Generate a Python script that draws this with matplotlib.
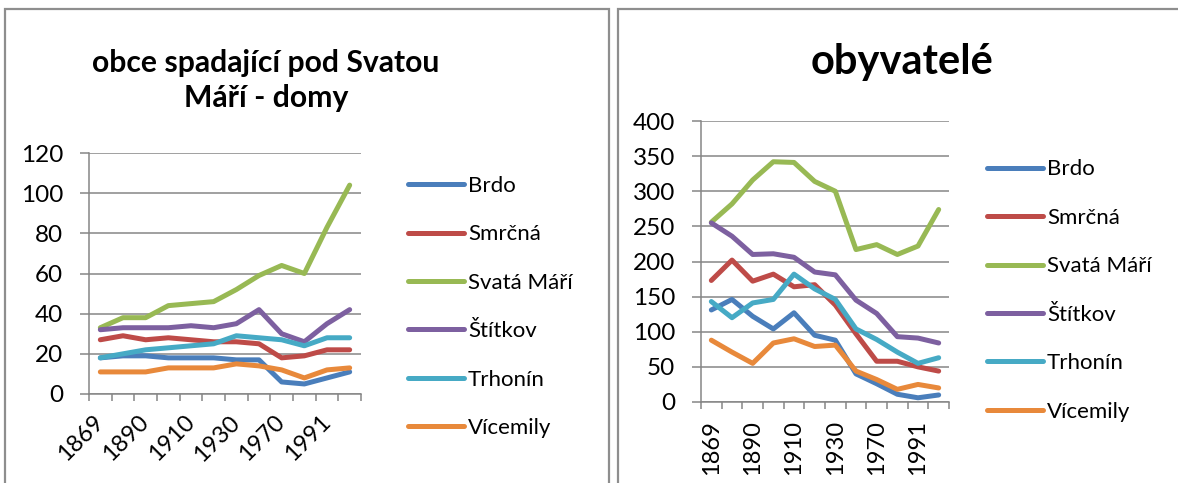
import numpy as np
import matplotlib
matplotlib.use("Agg")
import matplotlib.pyplot as plt
from matplotlib.patches import Rectangle

plt.rcParams['font.family'] = ['Lato', 'DejaVu Sans']

# categories (only every second year is labelled on the axis)
years = ["1869", "1880", "1890", "1900", "1910", "1921", "1930", "1950",
         "1970", "1980", "1991", "2001"]
names = ["Brdo", "Smrčná", "Svatá Máří", "Štítkov", "Trhonín", "Vícemily"]
colors = ["#4a7ebb", "#be4b48", "#98b954", "#7d60a0", "#46aac5", "#e8893b"]

# domy (houses)
domy_brdo     = [18, 19, 19, 18, 18, 18, 17, 17, 6, 5, 8, 11]
domy_smrcna   = [27, 29, 27, 28, 27, 26, 26, 25, 18, 19, 22, 22]
domy_svata    = [33, 38, 38, 44, 45, 46, 52, 59, 64, 60, 83, 104]
domy_stitkov  = [32, 33, 33, 33, 34, 33, 35, 42, 30, 26, 35, 42]
domy_trhonin  = [18, 20, 22, 23, 24, 25, 29, 28, 27, 24, 28, 28]
domy_vicemily = [11, 11, 11, 13, 13, 13, 15, 14, 12, 8, 12, 13]

# obyvatelé (inhabitants)
oby_brdo     = [131, 146, 122, 104, 127, 95, 88, 40, 26, 11, 6, 10]
oby_smrcna   = [173, 202, 172, 182, 164, 167, 138, 97, 58, 58, 50, 44]
oby_svata    = [256, 282, 316, 342, 341, 314, 300, 217, 224, 210, 222, 274]
oby_stitkov  = [255, 236, 210, 211, 206, 185, 181, 145, 126, 93, 91, 84]
oby_trhonin  = [143, 120, 141, 146, 182, 161, 146, 104, 89, 71, 55, 63]
oby_vicemily = [88, 71, 55, 84, 90, 79, 81, 44, 32, 18, 25, 20]

domy = [domy_brdo, domy_smrcna, domy_svata, domy_stitkov, domy_trhonin, domy_vicemily]
oby = [oby_brdo, oby_smrcna, oby_svata, oby_stitkov, oby_trhonin, oby_vicemily]

W, H = 1178, 483
fig = plt.figure(figsize=(W / 100, H / 100), dpi=100)

# chart frames
frame_col = "#8e8e8e"
fig.add_artist(Rectangle((5 / W, -0.05), 604 / W, 1.05 - 9 / H, transform=fig.transFigure,
                         fill=False, edgecolor=frame_col, lw=1.6))
fig.add_artist(Rectangle((618 / W, -0.05), 0.6, 1.05 - 9 / H, transform=fig.transFigure,
                         fill=False, edgecolor=frame_col, lw=1.6))

grid_col = "#868686"


def draw(ax, series, ymax, ystep, rot):
    x = np.arange(len(years))
    for vals, name, c in zip(series, names, colors):
        ax.plot(x, vals, color=c, lw=3.6, label=name,
                solid_joinstyle="round", solid_capstyle="round")
    ax.set_xlim(-0.5, len(years) - 0.5)
    ax.set_ylim(0, ymax)
    ax.set_yticks(np.arange(0, ymax + 1, ystep))
    ax.yaxis.grid(True, color=grid_col, lw=1.1)
    ax.set_axisbelow(True)
    for s in ["top", "right"]:
        ax.spines[s].set_visible(False)
    for s in ["left", "bottom"]:
        ax.spines[s].set_color(grid_col)
        ax.spines[s].set_linewidth(1.1)
    ax.tick_params(axis="y", length=6.5, width=1.1, color=grid_col, pad=12, labelsize=17.5)
    # tick marks between categories, labels on every second category
    ax.set_xticks(np.arange(-0.5, len(years)), labels=[])
    ax.tick_params(axis="x", which="major", length=5, width=1.1, color=grid_col)
    ax.set_xticks(x[::2], labels=years[::2], minor=True)
    if rot == 45:
        ax.tick_params(axis="x", which="minor", length=0, labelsize=17, pad=18)
        plt.setp(ax.get_xticklabels(minor=True), rotation=45, ha="right", va="center",
                 rotation_mode="anchor")
    else:
        ax.tick_params(axis="x", which="minor", length=0, labelsize=17, pad=13)
        plt.setp(ax.get_xticklabels(minor=True), rotation=90, ha="right", va="center",
                 rotation_mode="anchor")


ax1 = fig.add_axes([89 / W, 1 - 394 / H, 272 / W, 241 / H])
draw(ax1, domy, 120, 20, 45)
ax1.legend(loc="center left", bbox_to_anchor=(408 / W, 1 - 307 / H),
           bbox_transform=fig.transFigure, frameon=False, fontsize=16,
           handlelength=2.5, handletextpad=0.2, labelspacing=1.28,
           borderpad=0, borderaxespad=0)
fig.text(266 / W, 1 - 72 / H, "obce spadající pod Svatou", ha="center", va="baseline",
         fontsize=21.7, fontweight="bold")
fig.text(266 / W, 1 - 107 / H, "Máří - domy", ha="center", va="baseline",
         fontsize=21.7, fontweight="bold")

ax2 = fig.add_axes([701 / W, 1 - 402 / H, 248 / W, 281 / H])
draw(ax2, oby, 400, 50, 90)
ax2.legend(loc="center left", bbox_to_anchor=(987 / W, 1 - 290.5 / H),
           bbox_transform=fig.transFigure, frameon=False, fontsize=16,
           handlelength=2.5, handletextpad=0.2, labelspacing=1.28,
           borderpad=0, borderaxespad=0)
fig.text(902 / W, 1 - 74 / H, "obyvatelé", ha="center", va="baseline",
         fontsize=30, fontweight="bold")

fig.savefig("out.png", dpi=100)
